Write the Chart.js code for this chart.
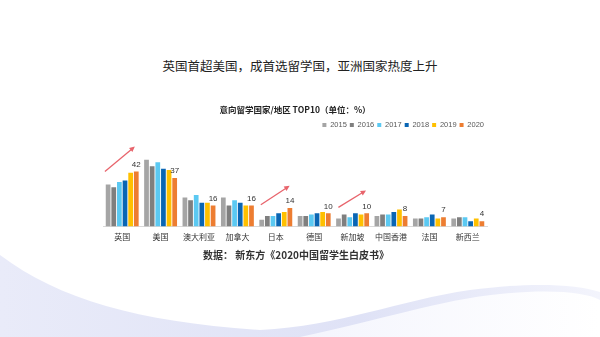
<!DOCTYPE html>
<html>
<head>
<meta charset="utf-8">
<script src="https://cdn.jsdelivr.net/npm/chart.js@4.4.1/dist/chart.umd.min.js"></script>
<style>
  html, body { margin: 0; padding: 0; background: #fff; }
  #page { position: relative; width: 600px; height: 337px; overflow: hidden; font-family: "Noto Sans CJK SC", "Noto Sans", sans-serif; }
  #bg { position: absolute; left: 0; top: 0; }
  #heading { position: absolute; left: 0; width: 600px; top: 57px; text-align: center; font-size: 12.5px; color: #222; line-height: 18px; }
  #source { position: absolute; left: 0; width: 592px; top: 248px; text-align: center; font-size: 10px; font-weight: bold; color: #333; line-height: 14px; }
  #wrap { position: absolute; left: 0; top: 0; width: 600px; height: 337px; }
</style>
</head>
<body>
<div id="page">
  <svg id="bg" width="600" height="337">
    <defs>
      <linearGradient id="g1" x1="0" y1="0" x2="1" y2="0">
        <stop offset="0" stop-color="#e9ebf9"/>
        <stop offset="0.6" stop-color="#dfe2f6"/>
        <stop offset="1" stop-color="#f3f4fc"/>
      </linearGradient>
      <linearGradient id="g2" x1="0" y1="0" x2="1" y2="0">
        <stop offset="0" stop-color="#f4f5fd"/>
        <stop offset="1" stop-color="#ffffff"/>
      </linearGradient>
    </defs>
    <path d="M0,255 C60,300 140,322 260,330 C340,326 400,300 470,290 C530,282 575,284 600,292 L600,337 L0,337 Z" fill="url(#g1)"/>
    <path d="M300,337 C380,320 440,300 500,294 C550,289 585,292 600,300 L600,337 Z" fill="url(#g2)"/>
  </svg>
  <div id="heading">英国首超美国，成首选留学国，亚洲国家热度上升</div>
  <div id="wrap"><canvas id="chart"></canvas></div>
  <div id="source">数据： 新东方《2020中国留学生白皮书》</div>
</div>
<script>
const countries = ["英国", "美国", "澳大利亚", "加拿大", "日本", "德国", "新加坡", "中国香港", "法国", "新西兰"];
const years = ["2015", "2016", "2017", "2018", "2019", "2020"];
const share2015 = [32, 51, 22, 22, 5, 8, 6, 8, 6, 6];
const share2016 = [30, 46, 20, 16, 8, 8, 9, 9, 6, 7];
const share2017 = [34, 49, 24, 20, 8, 9, 7, 9, 7, 7];
const share2018 = [35, 44, 18, 18, 10, 10, 10, 11, 9, 4];
const share2019 = [41, 43, 18, 16, 11, 11, 9, 13, 6, 6];
const share2020 = [42, 37, 16, 16, 14, 10, 10, 8, 7, 4];
const yearColors = ["#a5a5a5", "#7f7f7f", "#5bc9f2", "#0a66b4", "#ffc000", "#ed7d31"];

// rising trend arrows: category index offset + value at each end
const trendArrows = [
  { from: [-0.45, 42], to: [0.33, 61] },
  { from: [3.61, 16.5], to: [4.36, 31] },
  { from: [5.63, 14.5], to: [6.35, 27.5] },
];

const allShares = [share2015, share2016, share2017, share2018, share2019, share2020];

// numbers above the 2020 bars
const lastYearLabels = {
  id: "lastYearLabels",
  afterDatasetsDraw(chart) {
    const ctx = chart.ctx;
    const idx = chart.data.datasets.length - 1;
    const meta = chart.getDatasetMeta(idx);
    ctx.save();
    ctx.font = "8px Arial, 'Liberation Sans', sans-serif";
    ctx.fillStyle = "#333";
    ctx.textAlign = "center";
    ctx.textBaseline = "bottom";
    meta.data.forEach((bar, i) => {
      ctx.fillText(String(chart.data.datasets[idx].data[i]), bar.x, bar.y - 3);
    });
    ctx.restore();
  },
};

const arrows = {
  id: "arrows",
  afterDatasetsDraw(chart) {
    const ctx = chart.ctx;
    const xs = chart.scales.x, ys = chart.scales.y;
    const step = xs.getPixelForValue(1) - xs.getPixelForValue(0);
    const px = (p) => [xs.getPixelForValue(0) + p[0] * step, ys.getPixelForValue(p[1])];
    ctx.save();
    ctx.strokeStyle = "#e8646c";
    ctx.fillStyle = "#e8646c";
    ctx.lineWidth = 1.3;
    trendArrows.forEach((a) => {
      const [x1, y1] = px(a.from);
      const [x2, y2] = px(a.to);
      const ang = Math.atan2(y2 - y1, x2 - x1);
      ctx.beginPath();
      ctx.moveTo(x1, y1);
      ctx.lineTo(x2 - 3 * Math.cos(ang), y2 - 3 * Math.sin(ang));
      ctx.stroke();
      ctx.beginPath();
      ctx.moveTo(x2, y2);
      ctx.lineTo(x2 - 6 * Math.cos(ang - 0.45), y2 - 6 * Math.sin(ang - 0.45));
      ctx.lineTo(x2 - 6 * Math.cos(ang + 0.45), y2 - 6 * Math.sin(ang + 0.45));
      ctx.closePath();
      ctx.fill();
    });
    ctx.restore();
  },
};

new Chart(document.getElementById("chart"), {
  type: "bar",
  data: {
    labels: countries,
    datasets: years.map((y, i) => ({
      label: y,
      data: allShares[i],
      backgroundColor: yearColors[i],
      categoryPercentage: 0.88,
      barPercentage: 0.84,
    })),
  },
  plugins: [lastYearLabels, arrows],
  options: {
    responsive: true,
    maintainAspectRatio: false,
    animation: false,
    layout: {
      padding: { left: 103, right: 113, top: 105, bottom: 89 },
    },
    plugins: {
      title: {
        display: true,
        text: "意向留学国家/地区 TOP10（单位：%）",
        color: "#222",
        font: { family: "'Noto Sans CJK SC', serif", size: 8.5, weight: "bold" },
        padding: { top: 0, bottom: 3 },
      },
      legend: {
        display: true,
        align: "end",
        labels: {
          boxWidth: 4,
          boxHeight: 4,
          padding: 3,
          color: "#595959",
          font: { family: "Arial, 'Liberation Sans', sans-serif", size: 7.5 },
        },
      },
      tooltip: { enabled: false },
    },
    scales: {
      x: {
        grid: { display: false, drawTicks: false },
        border: { display: true, color: "#d9d9d9", width: 1 },
        ticks: {
          color: "#333",
          padding: 6,
          maxRotation: 0,
          autoSkip: false,
          font: { family: "'Noto Sans CJK SC', sans-serif", size: 8 },
        },
      },
      y: {
        display: false,
        min: 0,
        max: 67,
      },
    },
  },
});
</script>
</body>
</html>
